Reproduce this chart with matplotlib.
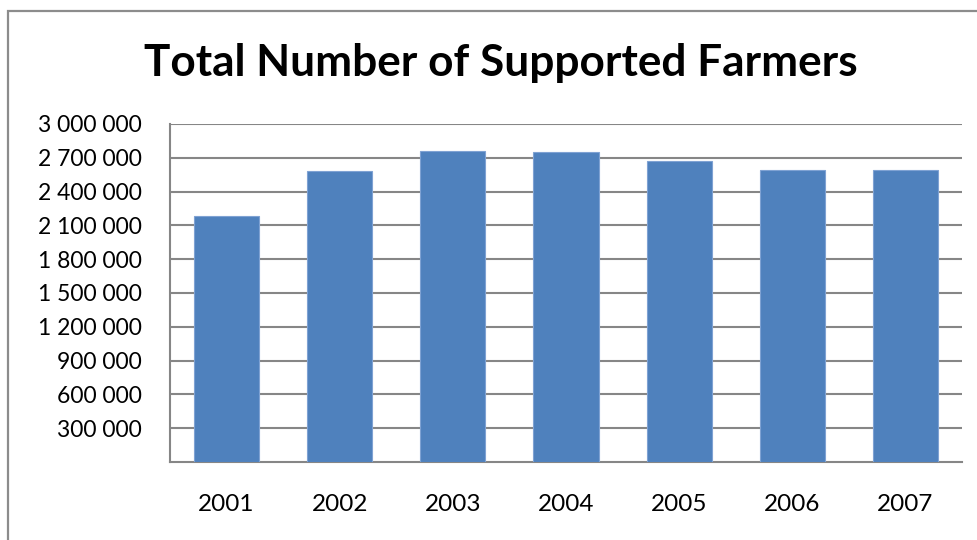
import matplotlib
matplotlib.use("Agg")
import matplotlib.pyplot as plt
from matplotlib.patches import Rectangle
from matplotlib.ticker import FuncFormatter

years = ["2001", "2002", "2003", "2004", "2005", "2006", "2007"]
farmers = [2183000, 2580000, 2760000, 2749000, 2672000, 2592000, 2589000]
y_ticks = [300000, 600000, 900000, 1200000, 1500000, 1800000, 2100000, 2400000, 2700000, 3000000]

plt.rcParams["font.family"] = ["Lato", "DejaVu Sans"]

fig = plt.figure(figsize=(9.78, 5.40), dpi=100)

# chart frame (runs off the right/bottom edge)
fig.patches.append(Rectangle((8 / 978, -0.1), 1.2, 1.1 - 12 / 540 + 0.002,
                             transform=fig.transFigure, fill=False,
                             edgecolor="#8c8c8c", linewidth=1.6))

ax = fig.add_axes([170 / 978, 1 - 462 / 540, (962 - 170) / 978, (462 - 124) / 540])
x = range(len(years))
ax.bar(x, farmers, width=0.575, color="#4F81BD", edgecolor="#7FA2D3", linewidth=0.8, zorder=3)

ax.set_xlim(-0.5, len(years) - 0.5)
ax.set_ylim(0, 3000000)
ax.set_yticks(y_ticks)
ax.yaxis.set_major_formatter(FuncFormatter(lambda v, p: f"{int(v):,}".replace(",", " ")))
ax.set_xticks(list(x))
ax.set_xticklabels(years)
ax.grid(axis="y", color="#868686", linewidth=1.5, zorder=0)
ax.tick_params(axis="y", length=0, pad=20, labelsize=16.5)
ax.tick_params(axis="x", length=0, pad=23, labelsize=17.5)

for side in ("top", "right"):
    ax.spines[side].set_visible(False)
for side in ("left", "bottom"):
    ax.spines[side].set_color("#868686")
    ax.spines[side].set_linewidth(1.5)

fig.text(501 / 978, 1 - 63 / 540, "Total Number of Supported Farmers",
         ha="center", va="center", fontsize=31.8, fontweight="bold")

fig.savefig("out.png", dpi=100)
